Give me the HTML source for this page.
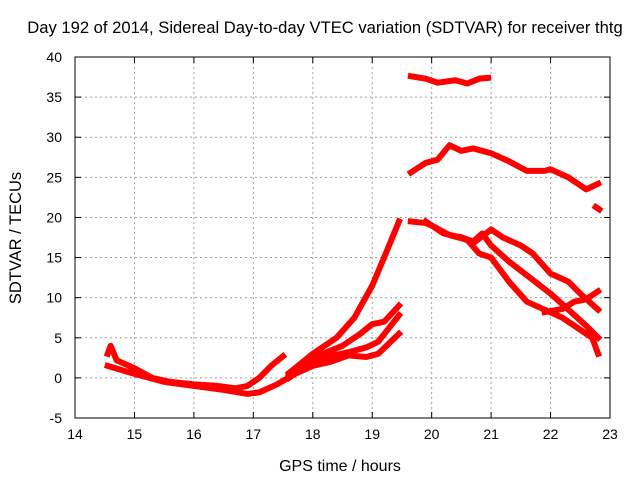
<!DOCTYPE html>
<html><head><meta charset="utf-8"><style>body{margin:0;background:#fff}svg{display:block;font-family:"Liberation Sans",sans-serif}</style></head><body>
<svg id="c" width="640" height="480" xmlns="http://www.w3.org/2000/svg">
<rect width="640" height="480" fill="#fff"/>
<text x="325" y="33" text-anchor="middle" font-size="16.6">Day 192 of 2014, Sidereal Day-to-day VTEC variation (SDTVAR) for receiver thtg</text>
<text x="340" y="471" text-anchor="middle" font-size="16">GPS time / hours</text>
<text transform="translate(21,238) rotate(-90)" text-anchor="middle" font-size="16.5">SDTVAR / TECUs</text>
<g id="grid"></g><g id="series"></g><g id="axes"></g>
</svg>
<script>
const xTicks=[14,15,16,17,18,19,20,21,22,23];
const yTicks=[-5,0,5,10,15,20,25,30,35,40];
const seriesEarly=[[14.55,3],[14.6,4],[14.7,2.2],[15,1.2],[15.3,0],[15.6,-0.5],[16,-0.8],[16.4,-1],[16.7,-1.3],[16.9,-1],[17.1,0],[17.3,1.5],[17.5,2.7]];
const seriesLow=[[14.55,1.5],[15,0.5],[15.5,-0.5],[16,-1],[16.5,-1.5],[16.9,-2],[17.1,-1.8],[17.4,-0.8],[17.7,0.5],[18,1.5],[18.3,2],[18.6,2.8],[18.9,2.6],[19.1,3],[19.45,5.5]];
const seriesMid=[[17.6,0],[18,2],[18.3,2.7],[18.6,3.2],[18.9,3.8],[19.1,4.5],[19.45,7.8]];
const seriesMid2=[[17.6,0.3],[18,2.5],[18.5,4],[18.8,5.5],[19,6.7],[19.2,7],[19.45,9]];
const seriesHigh=[[17.6,0.6],[18,3],[18.4,5],[18.7,7.5],[19,11.5],[19.2,15],[19.45,19.5]];
const seriesTop=[[19.65,37.6],[19.9,37.3],[20.1,36.8],[20.4,37.1],[20.6,36.7],[20.8,37.3],[20.95,37.4]];
const seriesSecond=[[19.65,25.6],[19.9,26.8],[20.1,27.2],[20.3,29],[20.5,28.3],[20.7,28.6],[21,28],[21.3,27],[21.6,25.8],[21.9,25.8],[22,26],[22.3,25],[22.6,23.5],[22.8,24.2]];
const seriesDot=[[22.76,21.3],[22.82,21]];
const seriesA=[[19.65,19.5],[19.9,19.3],[20,19],[20.3,17.8],[20.6,17.2],[20.8,15.5],[21,15],[21.3,12],[21.6,9.5],[21.9,8.5],[22.2,7.5],[22.5,6],[22.7,5],[22.8,3]];
const seriesB=[[19.9,19.5],[20.2,18],[20.5,17.5],[20.7,17],[20.85,18],[21,16.5],[21.3,14.5],[21.6,12.8],[22,10.5],[22.3,8.5],[22.6,6.5],[22.8,5]];
const seriesC=[[20.5,17.5],[20.7,16.8],[21,18.5],[21.2,17.5],[21.5,16.5],[21.7,15.5],[22,13],[22.3,12],[22.5,10.5],[22.8,8.5]];
const seriesD=[[21.9,8.2],[22.2,8.6],[22.4,9.5],[22.6,9.8],[22.8,10.8]];
const allSeries=[seriesEarly,seriesLow,seriesMid,seriesMid2,seriesHigh,seriesTop,seriesSecond,seriesDot,seriesA,seriesB,seriesC,seriesD];
const X0=75,X1=610,Y0=418,Y1=57;
const xs=h=>X0+(h-14)/9*(X1-X0);
const ys=v=>Y0-(v+5)/45*(Y0-Y1);
const NS='http://www.w3.org/2000/svg';
function mk(t,a,p){const e=document.createElementNS(NS,t);for(const k in a)e.setAttribute(k,a[k]);p.appendChild(e);return e;}
const g=document.getElementById('grid'),ax=document.getElementById('axes'),sg=document.getElementById('series');
xTicks.forEach(t=>{const x=xs(t);
 if(t>14&&t<23){const l=mk('line',{x1:x,x2:x,y1:Y1,y2:Y0,stroke:'#a0a0a0','stroke-dasharray':'2,3'},g);
 
 }
 mk('line',{x1:x,x2:x,y1:Y0,y2:Y0-6,stroke:'#000'},ax);mk('line',{x1:x,x2:x,y1:Y1,y2:Y1+6,stroke:'#000'},ax);
 const tx=mk('text',{x:x,y:Y0+21,'text-anchor':'middle','font-size':'14'},ax);tx.textContent=t;
 
 });
yTicks.forEach(t=>{const y=ys(t);
 if(t>-5&&t<40){const l=mk('line',{x1:X0,x2:X1,y1:y,y2:y,stroke:'#a0a0a0','stroke-dasharray':'2,3'},g);
 
 }
 mk('line',{x1:X0,x2:X0+6,y1:y,y2:y,stroke:'#000'},ax);mk('line',{x1:X1,x2:X1-6,y1:y,y2:y,stroke:'#000'},ax);
 const tx=mk('text',{x:X0-13,y:y+5,'text-anchor':'end','font-size':'14'},ax);tx.textContent=t;
 
 });
const fr=mk('rect',{x:X0,y:Y1,width:X1-X0,height:Y0-Y1,fill:'none',stroke:'#000'},ax);


allSeries.forEach((s,i)=>{const p=mk('polyline',{points:s.map(d=>xs(d[0])+','+ys(d[1])).join(' '),fill:'none',stroke:'#ff0000','stroke-width':6,'stroke-linejoin':'round','stroke-linecap':'square'},sg);
 
 });
</script>
</body></html>
